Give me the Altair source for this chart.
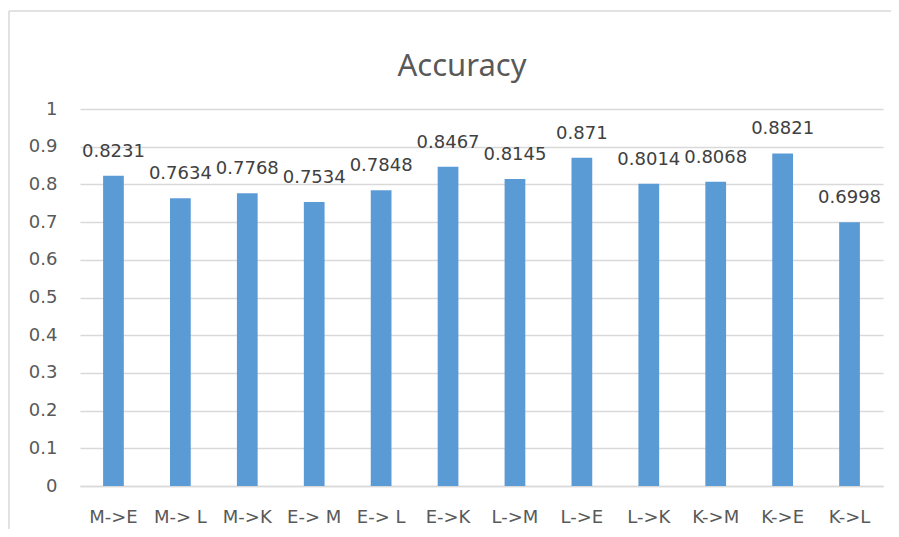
import altair as alt
import pandas as pd

categories = ["M->E", "M-> L", "M->K", "E-> M", "E-> L", "E->K",
              "L->M", "L->E", "L->K", "K->M", "K->E", "K->L"]
values = [0.8231, 0.7634, 0.7768, 0.7534, 0.7848, 0.8467,
          0.8145, 0.871, 0.8014, 0.8068, 0.8821, 0.6998]
labels = [str(v) for v in values]
y_ticks = [0, 0.1, 0.2, 0.3, 0.4, 0.5, 0.6, 0.7, 0.8, 0.9, 1]
chart_title = "Accuracy"

df = pd.DataFrame({"cat": categories, "val": values, "lab": labels})
tdf = pd.DataFrame({"t": [chart_title]})

FONT = "DejaVu Sans"
TXT = "#595959"
GRID = "#D9D9D9"

x = alt.X("cat:N", sort=categories, title=None,
          scale=alt.Scale(paddingInner=0.69, paddingOuter=0.345),
          axis=alt.Axis(labelAngle=0, labelFont=FONT, labelFontSize=18,
                        labelColor=TXT, labelPadding=22, ticks=False,
                        domainColor=GRID, domainWidth=1.5, grid=False))
y = alt.Y("val:Q", title=None,
          scale=alt.Scale(domain=[0, 1], nice=False),
          axis=alt.Axis(values=y_ticks, format="~g",
                        labelFont=FONT, labelOverlap=False,
                        labelFontSize=18, labelColor=TXT, labelPadding=23,
                        ticks=False, domain=False, gridColor=GRID,
                        gridWidth=1.5))

base = alt.Chart(df).encode(x=x, y=y)
bars = base.mark_bar(color="#5B9BD5")
text = base.mark_text(font=FONT, fontSize=18, color="#404040",
                      baseline="alphabetic", dy=-19).encode(text="lab:N")

title = alt.Chart(tdf).mark_text(font="Noto Sans", fontSize=31, color=TXT,
                                 baseline="alphabetic", align="center").encode(
    x=alt.value(382), y=alt.value(-33), text="t:N")

border_top = alt.Chart(tdf).mark_rule(color=GRID, strokeWidth=1.5).encode(
    x=alt.value(-71), x2=alt.value(2000), y=alt.value(-98))
border_left = alt.Chart(tdf).mark_rule(color=GRID, strokeWidth=1.5).encode(
    x=alt.value(-71), y=alt.value(-98), y2=alt.value(1000))

chart = alt.layer(border_top, border_left, bars, text, title).properties(
    width=803, height=377,
    padding={"left": 72, "top": 101, "right": 8, "bottom": 43},
    autosize=alt.AutoSizeParams(type="none"),
).configure_view(stroke=None)

chart.save("out.html", embed_options={"renderer": "svg", "actions": False})
